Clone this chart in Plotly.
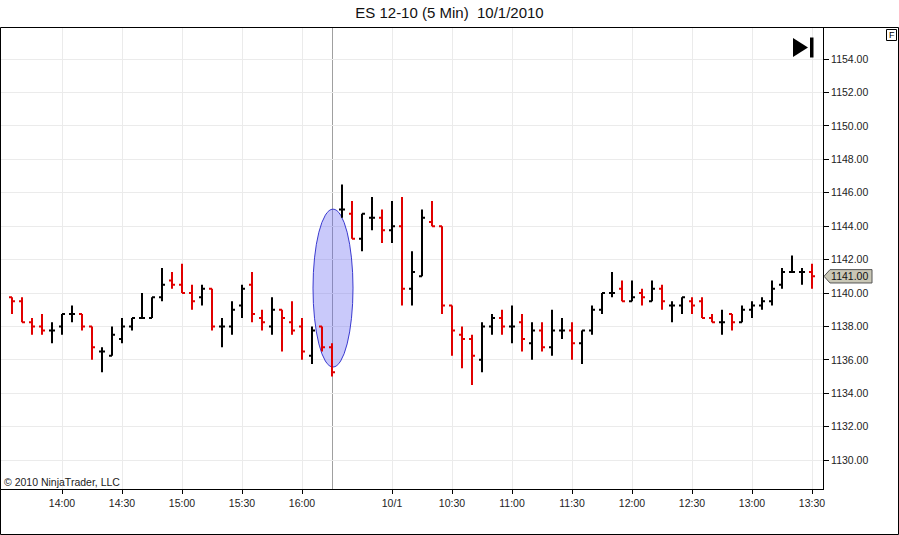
import pandas as pd
import plotly.graph_objects as go

# 5 min bars, stamped with close time (NinjaTrader style)
day1 = pd.date_range("2010-09-30 13:35", "2010-09-30 16:15", freq="5min")
day2 = pd.date_range("2010-10-01 09:35", "2010-10-01 13:30", freq="5min")
bar_times = [t.strftime("%m/%d %H:%M") for t in list(day1) + list(day2)]

opens = [1139.75, 1139.5, 1138.25, 1138.0, 1137.75, 1138.0, 1138.75, 1138.75, 1138.0, 1136.5,
         1136.25, 1137.25, 1138.0, 1138.5, 1138.5, 1139.75, 1140.75, 1140.5, 1140.0, 1139.75,
         1140.25, 1138.0, 1138.0, 1139.25, 1140.5, 1138.5, 1138.0, 1139.0, 1138.25, 1138.0,
         1136.25, 1138.0, 1136.75, 1145.0, 1144.75, 1143.25, 1144.5, 1144.5, 1143.75, 1144.0,
         1140.25, 1141.0, 1144.25, 1144.0, 1139.25, 1137.5, 1137.25, 1136.0, 1138.0, 1138.5,
         1138.0, 1138.25, 1137.0, 1137.75, 1136.75, 1137.75, 1137.75, 1137.0, 1137.75, 1139.0,
         1140.0, 1140.25, 1139.5, 1140.0, 1139.5, 1140.25, 1139.25, 1139.25, 1139.5, 1139.5,
         1138.5, 1138.25, 1138.75, 1138.25, 1139.0, 1139.25, 1139.5, 1140.5, 1141.25, 1141.25, 1141.25]
highs = [1139.75, 1139.75, 1138.5, 1138.75, 1138.25, 1138.75, 1139.25, 1138.75, 1138.0, 1136.75,
         1138.0, 1138.5, 1138.5, 1140.0, 1139.75, 1141.5, 1141.25, 1141.75, 1140.5, 1140.5,
         1140.25, 1138.5, 1139.5, 1140.5, 1141.25, 1139.0, 1139.75, 1139.0, 1139.5, 1138.5,
         1138.0, 1138.0, 1137.0, 1146.5, 1145.5, 1144.75, 1145.75, 1145.0, 1145.5, 1145.75,
         1142.5, 1145.0, 1145.5, 1144.0, 1139.25, 1138.0, 1137.5, 1138.25, 1138.75, 1139.0,
         1139.25, 1138.75, 1138.25, 1138.25, 1139.0, 1138.5, 1138.25, 1137.75, 1139.25, 1140.0,
         1141.25, 1140.75, 1140.75, 1140.25, 1140.75, 1140.5, 1139.5, 1139.75, 1139.75, 1139.75,
         1138.75, 1139.0, 1138.75, 1139.25, 1139.5, 1139.75, 1140.75, 1141.5, 1142.25, 1141.5, 1141.75]
lows = [1138.75, 1138.25, 1137.5, 1137.5, 1137.0, 1137.5, 1138.25, 1137.75, 1136.0, 1135.25,
        1136.25, 1137.0, 1137.75, 1138.5, 1138.5, 1139.5, 1140.25, 1140.0, 1139.0, 1139.25,
        1137.75, 1136.75, 1137.5, 1138.5, 1138.25, 1137.75, 1137.5, 1136.5, 1137.5, 1136.0,
        1135.75, 1136.5, 1135.0, 1144.5, 1143.25, 1142.5, 1143.75, 1143.0, 1143.0, 1139.25,
        1139.25, 1141.0, 1144.0, 1138.75, 1136.25, 1135.5, 1134.5, 1135.25, 1137.5, 1137.5,
        1137.0, 1136.5, 1136.0, 1136.5, 1136.25, 1137.25, 1136.0, 1135.75, 1137.5, 1138.75,
        1139.75, 1139.5, 1139.5, 1139.25, 1139.5, 1139.0, 1138.25, 1138.75, 1138.75, 1138.5,
        1138.25, 1137.5, 1137.75, 1138.25, 1138.5, 1139.0, 1139.25, 1140.25, 1141.25, 1140.5, 1140.25]
closes = [1139.5, 1138.25, 1138.0, 1137.75, 1137.75, 1138.75, 1138.75, 1138.0, 1136.75, 1136.5,
          1137.5, 1138.0, 1138.5, 1138.5, 1139.75, 1140.5, 1140.5, 1140.0, 1139.5, 1140.25,
          1138.0, 1138.0, 1139.0, 1140.25, 1138.75, 1138.25, 1139.0, 1138.5, 1137.75, 1136.5,
          1137.75, 1136.75, 1135.25, 1145.0, 1143.25, 1144.75, 1144.5, 1143.75, 1144.0, 1140.25,
          1141.25, 1144.5, 1144.0, 1139.25, 1137.75, 1137.25, 1136.25, 1138.0, 1138.5, 1138.0,
          1138.0, 1137.25, 1137.75, 1136.75, 1137.75, 1137.75, 1137.0, 1137.75, 1139.0, 1140.0,
          1140.0, 1139.5, 1139.75, 1139.75, 1140.25, 1139.5, 1139.25, 1139.75, 1139.25, 1138.5,
          1138.25, 1138.25, 1138.25, 1139.0, 1139.25, 1139.5, 1140.25, 1141.25, 1141.25, 1141.25, 1141.0]

tick_times = ["09/30 14:00", "09/30 14:30", "09/30 15:00", "09/30 15:30", "09/30 16:00",
              "10/01 10:00", "10/01 10:30", "10/01 11:00", "10/01 11:30", "10/01 12:00",
              "10/01 12:30", "10/01 13:00", "10/01 13:30"]
tick_labels = ["14:00", "14:30", "15:00", "15:30", "16:00", "10/1", "10:30",
               "11:00", "11:30", "12:00", "12:30", "13:00", "13:30"]
price_ticks = [1130, 1132, 1134, 1136, 1138, 1140, 1142, 1144, 1146, 1148, 1150, 1152, 1154]

# plot area in pixels: x 0..823, y 27..489
W, H = 899, 535
L, R, T, B = 0, 76, 27, 46
pw, ph = W - L - R, H - T - B
y_range = [1128.27, 1155.92]


def px(x):
    return (x - L) / pw


def py(y):
    return (H - B - y) / ph


up = [i for i in range(len(bar_times)) if closes[i] >= opens[i]]
down = [i for i in range(len(bar_times)) if closes[i] < opens[i]]


def bars(idx, colour):
    line = dict(line=dict(color=colour, width=2))
    return go.Ohlc(x=[bar_times[i] for i in idx],
                   open=[opens[i] for i in idx], high=[highs[i] for i in idx],
                   low=[lows[i] for i in idx], close=[closes[i] for i in idx],
                   increasing=line, decreasing=line, tickwidth=0.3, hoverinfo="skip")


fig = go.Figure([bars(up, "#000000"), bars(down, "#e00000")])

last = closes[-1]
grid = "#ebebeb"
fig.update_layout(
    width=W, height=H, margin=dict(l=L, r=R, t=T, b=B),
    paper_bgcolor="white", plot_bgcolor="white", showlegend=False,
    font=dict(family="Liberation Sans, Arial, sans-serif", size=10.5, color="#222222"),
    title=dict(text="ES 12-10 (5 Min) \u00a010/1/2010", x=0.5, xanchor="center",
               y=1 - 12.5 / H, yanchor="middle", font=dict(size=15, color="#111111")),
    xaxis=dict(type="category", categoryorder="array", categoryarray=bar_times,
               range=[-1.2, 81.1], tickvals=tick_times, ticktext=tick_labels,
               showgrid=True, gridcolor=grid, ticks="outside", ticklen=4, tickcolor="black",
               showline=True, linecolor="black", linewidth=1, zeroline=False,
               rangeslider=dict(visible=False)),
    yaxis=dict(side="right", range=y_range, tickvals=price_ticks, tickformat=".2f",
               showgrid=True, gridcolor=grid, ticks="outside", ticklen=5, tickcolor="black",
               showline=True, linecolor="black", linewidth=1, zeroline=False),
    # second right axis only carries the last-price label
    yaxis2=dict(overlaying="y", side="right", range=y_range, tickvals=[last], tickformat=".2f",
                showgrid=False, zeroline=False, showline=False, ticks="outside", ticklen=5,
                tickcolor="rgba(0,0,0,0)", tickfont=dict(color="#111111")),
)
# invisible carrier so yaxis2 is drawn
fig.add_trace(go.Scatter(x=[bar_times[-1]], y=[last], yaxis="y2", mode="markers",
                         marker=dict(opacity=0), hoverinfo="skip"))

shapes = [
    # outer frame
    dict(type="rect", xref="paper", yref="paper", x0=px(0.5), x1=px(898.5), y0=py(534.5), y1=py(27.5),
         line=dict(color="black", width=1)),
    # ellipse drawing object
    dict(type="circle", xref="x", yref="y", x0=30.1, x1=34.1, y0=1135.57, y1=1145.02,
         fillcolor="rgba(100,100,240,0.35)", line=dict(color="#3a3ad0", width=1), layer="between"),
    # vertical line at session end (nudged half a pixel so it stays 1px wide)
    dict(type="line", xref="x", yref="paper", x0=32.05, x1=32.05, y0=0, y1=1,
         line=dict(color="#a0a0a0", width=1), layer="between"),
    # "go to end" icon
    dict(type="path", xref="paper", yref="paper",
         path=f"M {px(793)},{py(38)} L {px(808)},{py(47.5)} L {px(793)},{py(57)} Z",
         fillcolor="black", line=dict(width=0)),
    dict(type="rect", xref="paper", yref="paper", x0=px(810), x1=px(813.5), y0=py(57.5), y1=py(37.5),
         fillcolor="black", line=dict(width=0)),
    # F box
    dict(type="rect", xref="paper", yref="paper", x0=px(886.5), x1=px(896.5), y0=py(40.5), y1=py(29.5),
         fillcolor="white", line=dict(color="black", width=1), layer="below"),
    # last price marker
    dict(type="path", xref="paper", yref="y",
         path=f"M {px(824)},{last} L {px(830)},{last + 0.4} L {px(872)},{last + 0.4} "
              f"L {px(872)},{last - 0.4} L {px(830)},{last - 0.4} Z",
         fillcolor="#c9c7b6", line=dict(color="#555555", width=1), layer="below"),
]
fig.update_layout(shapes=shapes)

fig.add_annotation(text="F", xref="paper", yref="paper", x=px(891.5), y=py(35),
                   xanchor="center", yanchor="middle",
                   showarrow=False, font=dict(size=9, color="black"))
fig.add_annotation(text="\u00a9 2010 NinjaTrader, LLC", xref="paper", yref="paper",
                   x=px(2), y=py(482), xanchor="left", yanchor="middle",
                   showarrow=False, font=dict(size=10.5, color="#222222"))

# page body has a default 8px margin; drop it so the figure fills the window
fig.write_html("out.html", config={"displayModeBar": False},
               post_script="document.body.style.margin='0';")
